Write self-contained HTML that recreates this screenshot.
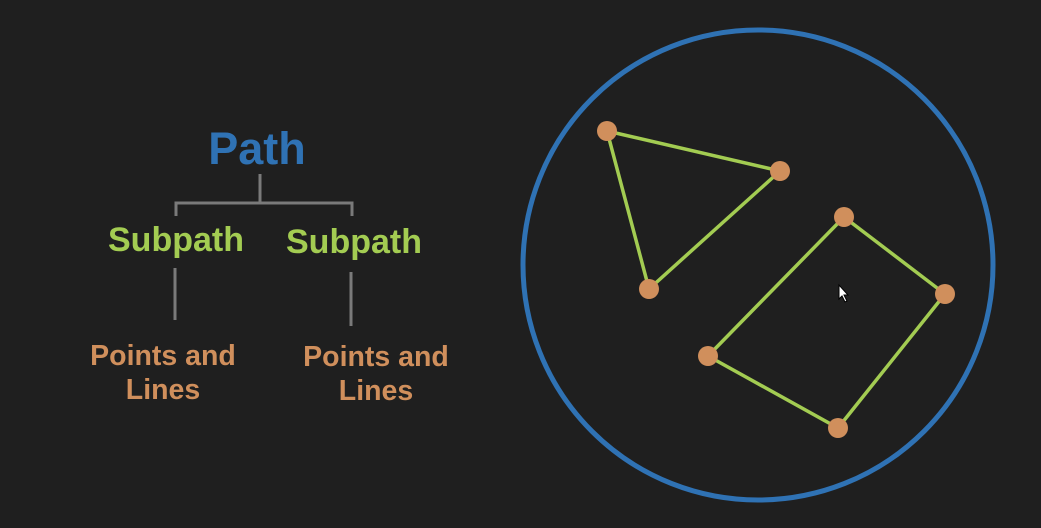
<!DOCTYPE html>
<html><head><meta charset="utf-8"><style>
html,body{margin:0;padding:0;background:#1f1f1f;}
svg{display:block;}
text{font-family:"Liberation Sans",sans-serif;font-weight:bold;text-anchor:middle;}
</style></head><body>
<svg id="s" width="1041" height="528" viewBox="0 0 1041 528">
<rect width="1041" height="528" fill="#1f1f1f"/>
<text x="257" y="164" font-size="45" fill="#2f72b4">Path</text>
<g stroke="#7a7a7a" stroke-width="3" fill="none">
<path d="M260 174 V203 M176 216 V203 H352 V216"/>
<path d="M175 268 V320"/>
<path d="M351 272 V326"/>
</g>
<text x="176" y="251" font-size="34" fill="#a3cc52">Subpath</text>
<text x="354" y="253" font-size="34" fill="#a3cc52">Subpath</text>
<g font-size="28.5" fill="#d08f5c">
<text x="163" y="365">Points and</text>
<text x="163" y="399">Lines</text>
<text x="376" y="366">Points and</text>
<text x="376" y="400">Lines</text>
</g>
<circle cx="758" cy="265" r="235" fill="none" stroke="#2f72b4" stroke-width="5"/>
<g id="shapes"></g>
<path d="M839 285 L839 299 L842 296 L845 302 L847 301 L844 295 L848 295 Z" fill="#fff" stroke="#000" stroke-width="1"/>
</svg>
<script>
const triangleX=[607,780,649];
const triangleY=[131,171,289];
const quadX=[844,945,838,708];
const quadY=[217,294,428,356];
const ns="http://www.w3.org/2000/svg";
const g=document.getElementById('shapes');
function draw(xs,ys,name){
  const pts=xs.map((x,i)=>x+","+ys[i]).join(" ");
  const p=document.createElementNS(ns,'polygon');
  p.setAttribute('points',pts);
  p.setAttribute('fill','none');p.setAttribute('stroke','#a3cc52');p.setAttribute('stroke-width','3.5');
  
  
  g.appendChild(p);
  xs.forEach((x,i)=>{
    const c=document.createElementNS(ns,'circle');
    c.setAttribute('cx',x);c.setAttribute('cy',ys[i]);c.setAttribute('r','10');c.setAttribute('fill','#d08f5c');
    
    
    g.appendChild(c);
  });
}
draw(triangleX,triangleY,'triangle');
draw(quadX,quadY,'quad');
</script>
</body></html>
